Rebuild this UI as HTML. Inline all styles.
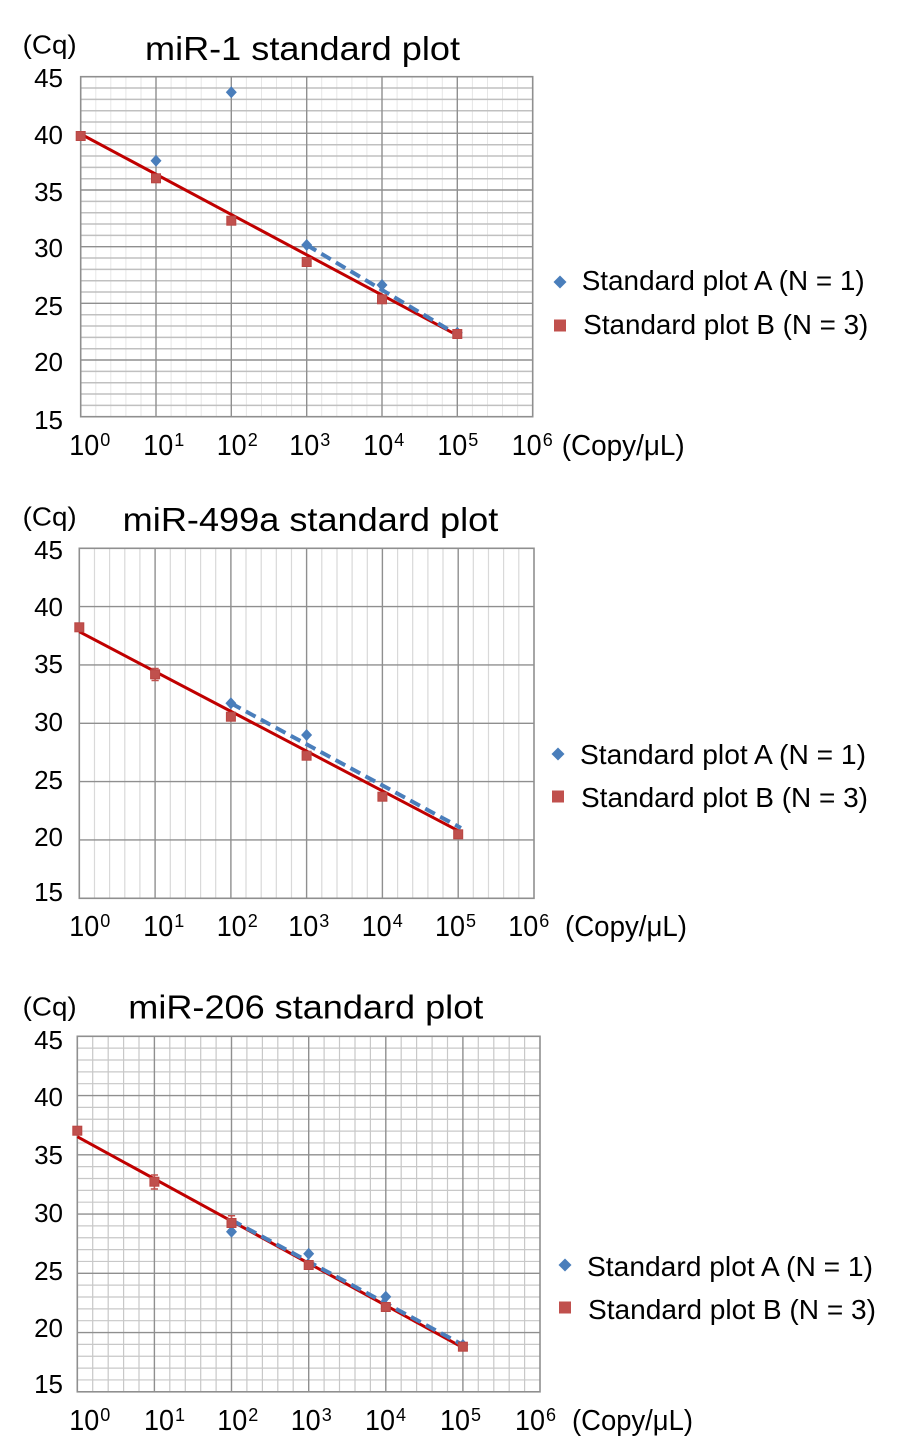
<!DOCTYPE html>
<html>
<head>
<meta charset="utf-8">
<style>
  html, body { margin: 0; padding: 0; background: #ffffff; }
  svg { display: block; }
  text { font-family: "Liberation Sans", Arial, sans-serif; fill: #000; }
</style>
</head>
<body>
<svg width="900" height="1450" viewBox="0 0 900 1450" xmlns="http://www.w3.org/2000/svg">
  <rect x="0" y="0" width="900" height="1450" fill="#ffffff"/>

  <!-- ================= CHART 1 ================= -->
  <g>
    <text x="22.7" y="53.5" font-size="26" textLength="54" lengthAdjust="spacingAndGlyphs">(Cq)</text>
    <text x="145" y="60" font-size="33" textLength="315" lengthAdjust="spacingAndGlyphs">miR-1 standard plot</text>

    <path fill="none" stroke="#e6e6e6" stroke-width="1"
      d="M95.8 76.7V416.7M110.8 76.7V416.7M125.9 76.7V416.7M141 76.7V416.7
         M171.1 76.7V416.7M186.1 76.7V416.7M201.2 76.7V416.7M216.3 76.7V416.7
         M246.4 76.7V416.7M261.5 76.7V416.7M276.5 76.7V416.7M291.6 76.7V416.7
         M321.7 76.7V416.7M336.8 76.7V416.7M351.9 76.7V416.7M366.9 76.7V416.7
         M397.1 76.7V416.7M412.1 76.7V416.7M427.2 76.7V416.7M442.3 76.7V416.7
         M472.4 76.7V416.7M487.5 76.7V416.7M502.5 76.7V416.7M517.6 76.7V416.7"/>
    <path fill="none" stroke="#c0c0c0" stroke-width="1.5"
      d="M80.7 88H532.7M80.7 99.4H532.7M80.7 110.7H532.7M80.7 122H532.7
         M80.7 144.7H532.7M80.7 156H532.7M80.7 167.4H532.7M80.7 178.7H532.7
         M80.7 201.4H532.7M80.7 212.7H532.7M80.7 224H532.7M80.7 235.4H532.7
         M80.7 258H532.7M80.7 269.4H532.7M80.7 280.7H532.7M80.7 292H532.7
         M80.7 314.7H532.7M80.7 326H532.7M80.7 337.4H532.7M80.7 348.7H532.7
         M80.7 371.4H532.7M80.7 382.7H532.7M80.7 394H532.7M80.7 405.4H532.7"/>
    <path fill="none" stroke="#8f8f8f" stroke-width="1.4"
      d="M156 76.7V416.7M231.3 76.7V416.7M306.7 76.7V416.7M382 76.7V416.7M457.3 76.7V416.7
         M80.7 133.3H532.7M80.7 190H532.7M80.7 246.7H532.7M80.7 303.3H532.7M80.7 360H532.7"/>
    <rect x="80.7" y="76.7" width="452" height="340" fill="none" stroke="#8f8f8f" stroke-width="1.6"/>

    <g font-size="26" text-anchor="end">
      <text x="63" y="87">45</text>
      <text x="63" y="144">40</text>
      <text x="63" y="201">35</text>
      <text x="63" y="257">30</text>
      <text x="63" y="315">25</text>
      <text x="63" y="371">20</text>
      <text x="63" y="429">15</text>
    </g>
    <g font-size="29">
      <text x="69.3" y="455" textLength="30" lengthAdjust="spacingAndGlyphs">10</text><text x="100.3" y="446" font-size="18">0</text>
      <text x="143.3" y="455" textLength="30" lengthAdjust="spacingAndGlyphs">10</text><text x="174.3" y="446" font-size="18">1</text>
      <text x="216.7" y="455" textLength="30" lengthAdjust="spacingAndGlyphs">10</text><text x="247.7" y="446" font-size="18">2</text>
      <text x="289.3" y="455" textLength="30" lengthAdjust="spacingAndGlyphs">10</text><text x="320.3" y="446" font-size="18">3</text>
      <text x="363.3" y="455" textLength="30" lengthAdjust="spacingAndGlyphs">10</text><text x="394.3" y="446" font-size="18">4</text>
      <text x="437.3" y="455" textLength="30" lengthAdjust="spacingAndGlyphs">10</text><text x="468.3" y="446" font-size="18">5</text>
      <text x="511.7" y="455" textLength="30" lengthAdjust="spacingAndGlyphs">10</text><text x="542.7" y="446" font-size="18">6</text>
      <text x="561.7" y="455" textLength="123" lengthAdjust="spacingAndGlyphs">(Copy/μL)</text>
    </g>

    <line x1="80.7" y1="134" x2="457.3" y2="335.3" stroke="#c00000" stroke-width="3"/>
    <line x1="306.7" y1="245" x2="456" y2="334" stroke="#4a7ebb" stroke-width="4" stroke-dasharray="11 6"/>
    <g fill="#4a7ebb">
      <path d="M156 154.7L161.5 160.7L156 166.7L150.5 160.7Z"/>
      <path d="M231.3 86.3L236.8 92.3L231.3 98.3L225.8 92.3Z"/>
      <path d="M306.7 239L312.2 245L306.7 251L301.2 245Z"/>
      <path d="M382 279L387.5 285L382 291L376.5 285Z"/>
      <path d="M457.3 326.7L462.8 332.7L457.3 338.7L451.8 332.7Z"/>
    </g>
    <g fill="#c0504d" stroke="#b94643" stroke-width="1">
      <rect x="76.2" y="131.5" width="9" height="9"/>
      <rect x="151.5" y="173.8" width="9" height="9"/>
      <rect x="226.8" y="216.2" width="9" height="9"/>
      <rect x="302.2" y="257.5" width="9" height="9"/>
      <rect x="377.5" y="294.8" width="9" height="9"/>
      <rect x="452.8" y="329.5" width="9" height="9"/>
    </g>

    <path d="M560 275.5L566.5 282L560 288.5L553.5 282Z" fill="#4a7ebb"/>
    <rect x="554" y="319.5" width="12" height="12" fill="#c0504d"/>
    <text x="581.7" y="290" font-size="28" textLength="283" lengthAdjust="spacingAndGlyphs">Standard plot A (N = 1)</text>
    <text x="583.3" y="334" font-size="28" textLength="285" lengthAdjust="spacingAndGlyphs">Standard plot B (N = 3)</text>
  </g>

  <!-- ================= CHART 2 ================= -->
  <g>
    <text x="22.7" y="525.5" font-size="26" textLength="54" lengthAdjust="spacingAndGlyphs">(Cq)</text>
    <text x="122.7" y="531" font-size="33" textLength="375.6" lengthAdjust="spacingAndGlyphs">miR-499a standard plot</text>

    <path fill="none" stroke="#d9d9d9" stroke-width="1.2"
      d="M94.5 548.3V898.3M109.6 548.3V898.3M124.8 548.3V898.3M139.9 548.3V898.3
         M170.3 548.3V898.3M185.4 548.3V898.3M200.6 548.3V898.3M215.7 548.3V898.3
         M246 548.3V898.3M261.2 548.3V898.3M276.3 548.3V898.3M291.5 548.3V898.3
         M321.8 548.3V898.3M337 548.3V898.3M352.1 548.3V898.3M367.3 548.3V898.3
         M397.6 548.3V898.3M412.7 548.3V898.3M427.9 548.3V898.3M443 548.3V898.3
         M473.3 548.3V898.3M488.5 548.3V898.3M503.6 548.3V898.3M518.8 548.3V898.3"/>
    <path fill="none" stroke="#8f8f8f" stroke-width="1.4"
      d="M155.1 548.3V898.3M230.9 548.3V898.3M306.6 548.3V898.3M382.4 548.3V898.3M458.2 548.3V898.3
         M79.3 606.6H534M79.3 664.9H534M79.3 723.3H534M79.3 781.6H534M79.3 839.9H534"/>
    <rect x="79.3" y="548.3" width="454.7" height="350" fill="none" stroke="#8f8f8f" stroke-width="1.6"/>

    <g font-size="26" text-anchor="end">
      <text x="63" y="559">45</text>
      <text x="63" y="616">40</text>
      <text x="63" y="673">35</text>
      <text x="63" y="731">30</text>
      <text x="63" y="789">25</text>
      <text x="63" y="846">20</text>
      <text x="63" y="901">15</text>
    </g>
    <g font-size="29">
      <text x="69.3" y="936" textLength="30" lengthAdjust="spacingAndGlyphs">10</text><text x="100.3" y="927" font-size="18">0</text>
      <text x="143.3" y="936" textLength="30" lengthAdjust="spacingAndGlyphs">10</text><text x="174.3" y="927" font-size="18">1</text>
      <text x="216.7" y="936" textLength="30" lengthAdjust="spacingAndGlyphs">10</text><text x="247.7" y="927" font-size="18">2</text>
      <text x="288.3" y="936" textLength="30" lengthAdjust="spacingAndGlyphs">10</text><text x="319.3" y="927" font-size="18">3</text>
      <text x="361.7" y="936" textLength="30" lengthAdjust="spacingAndGlyphs">10</text><text x="392.7" y="927" font-size="18">4</text>
      <text x="435" y="936" textLength="30" lengthAdjust="spacingAndGlyphs">10</text><text x="466" y="927" font-size="18">5</text>
      <text x="508.3" y="936" textLength="30" lengthAdjust="spacingAndGlyphs">10</text><text x="539.3" y="927" font-size="18">6</text>
      <text x="565" y="936" textLength="122" lengthAdjust="spacingAndGlyphs">(Copy/μL)</text>
    </g>

    <line x1="79.3" y1="631.7" x2="460" y2="831.7" stroke="#c00000" stroke-width="3"/>
    <line x1="230.9" y1="703.3" x2="461" y2="828" stroke="#4a7ebb" stroke-width="4" stroke-dasharray="11 6"/>
    <path fill="none" stroke="#c0504d" stroke-width="1.5" d="M155.1 668.5V680.5M151.5 668.5H158.7M151.5 680.5H158.7"/>
    <g fill="#4a7ebb">
      <path d="M230.9 697.3L236.4 703.3L230.9 709.3L225.4 703.3Z"/>
      <path d="M306.6 729L312.1 735L306.6 741L301.1 735Z"/>
    </g>
    <g fill="#c0504d" stroke="#b94643" stroke-width="1">
      <rect x="74.8" y="622.8" width="9" height="9"/>
      <rect x="150.6" y="669.8" width="9" height="9"/>
      <rect x="226.4" y="712.2" width="9" height="9"/>
      <rect x="302.1" y="751.2" width="9" height="9"/>
      <rect x="377.9" y="792.2" width="9" height="9"/>
      <rect x="453.7" y="829.8" width="9" height="9"/>
    </g>

    <path d="M558 747.5L564.5 754L558 760.5L551.5 754Z" fill="#4a7ebb"/>
    <rect x="552" y="790.5" width="12" height="12" fill="#c0504d"/>
    <text x="580" y="764" font-size="28" textLength="286" lengthAdjust="spacingAndGlyphs">Standard plot A (N = 1)</text>
    <text x="581" y="807" font-size="28" textLength="287" lengthAdjust="spacingAndGlyphs">Standard plot B (N = 3)</text>
  </g>

  <!-- ================= CHART 3 ================= -->
  <g>
    <text x="22.7" y="1015.5" font-size="26" textLength="54" lengthAdjust="spacingAndGlyphs">(Cq)</text>
    <text x="128.3" y="1018.5" font-size="33" textLength="355" lengthAdjust="spacingAndGlyphs">miR-206 standard plot</text>

    <path fill="none" stroke="#c8c8c8" stroke-width="1.2"
      d="M92.7 1036.3V1391.8M108.2 1036.3V1391.8M123.6 1036.3V1391.8M139 1036.3V1391.8
         M169.8 1036.3V1391.8M185.3 1036.3V1391.8M200.7 1036.3V1391.8M216.1 1036.3V1391.8
         M246.9 1036.3V1391.8M262.4 1036.3V1391.8M277.8 1036.3V1391.8M293.2 1036.3V1391.8
         M324.1 1036.3V1391.8M339.5 1036.3V1391.8M355 1036.3V1391.8M370.4 1036.3V1391.8
         M401.2 1036.3V1391.8M416.6 1036.3V1391.8M432.1 1036.3V1391.8M447.5 1036.3V1391.8
         M478.3 1036.3V1391.8M493.8 1036.3V1391.8M509.2 1036.3V1391.8M524.6 1036.3V1391.8
         M77.3 1048.15H540M77.3 1060H540M77.3 1071.85H540M77.3 1083.7H540
         M77.3 1107.4H540M77.3 1119.25H540M77.3 1131.1H540M77.3 1142.95H540
         M77.3 1166.65H540M77.3 1178.5H540M77.3 1190.35H540M77.3 1202.2H540
         M77.3 1225.9H540M77.3 1237.75H540M77.3 1249.6H540M77.3 1261.45H540
         M77.3 1285.15H540M77.3 1297H540M77.3 1308.85H540M77.3 1320.7H540
         M77.3 1344.4H540M77.3 1356.25H540M77.3 1368.1H540M77.3 1379.95H540"/>
    <path fill="none" stroke="#8f8f8f" stroke-width="1.4"
      d="M154.4 1036.3V1391.8M231.5 1036.3V1391.8M308.7 1036.3V1391.8M385.8 1036.3V1391.8M462.9 1036.3V1391.8
         M77.3 1095.6H540M77.3 1154.8H540M77.3 1214.1H540M77.3 1273.3H540M77.3 1332.6H540"/>
    <rect x="77.3" y="1036.3" width="462.7" height="355.5" fill="none" stroke="#8f8f8f" stroke-width="1.6"/>

    <g font-size="26" text-anchor="end">
      <text x="63" y="1049">45</text>
      <text x="63" y="1106">40</text>
      <text x="63" y="1164">35</text>
      <text x="63" y="1222">30</text>
      <text x="63" y="1280">25</text>
      <text x="63" y="1337">20</text>
      <text x="63" y="1393">15</text>
    </g>
    <g font-size="29">
      <text x="69.3" y="1430" textLength="30" lengthAdjust="spacingAndGlyphs">10</text><text x="100.3" y="1421" font-size="18">0</text>
      <text x="144" y="1430" textLength="30" lengthAdjust="spacingAndGlyphs">10</text><text x="175" y="1421" font-size="18">1</text>
      <text x="217.3" y="1430" textLength="30" lengthAdjust="spacingAndGlyphs">10</text><text x="248.3" y="1421" font-size="18">2</text>
      <text x="290.7" y="1430" textLength="30" lengthAdjust="spacingAndGlyphs">10</text><text x="321.7" y="1421" font-size="18">3</text>
      <text x="365" y="1430" textLength="30" lengthAdjust="spacingAndGlyphs">10</text><text x="396" y="1421" font-size="18">4</text>
      <text x="440" y="1430" textLength="30" lengthAdjust="spacingAndGlyphs">10</text><text x="471" y="1421" font-size="18">5</text>
      <text x="515" y="1430" textLength="30" lengthAdjust="spacingAndGlyphs">10</text><text x="546" y="1421" font-size="18">6</text>
      <text x="572" y="1430" textLength="121" lengthAdjust="spacingAndGlyphs">(Copy/μL)</text>
    </g>

    <line x1="77.3" y1="1136.7" x2="463" y2="1347.7" stroke="#c00000" stroke-width="3"/>
    <line x1="231.5" y1="1220" x2="463" y2="1345" stroke="#4a7ebb" stroke-width="4" stroke-dasharray="11 6"/>
    <path fill="none" stroke="#c0504d" stroke-width="1.5"
      d="M154.4 1175V1189M150.8 1175H158M150.8 1189H158
         M231.5 1215.7V1230M227.9 1215.7H235.1M227.9 1230H235.1"/>
    <g fill="#4a7ebb">
      <path d="M231.5 1225.7L237 1231.7L231.5 1237.7L226 1231.7Z"/>
      <path d="M308.7 1247.7L314.2 1253.7L308.7 1259.7L303.2 1253.7Z"/>
      <path d="M385.8 1290.7L391.3 1296.7L385.8 1302.7L380.3 1296.7Z"/>
      <path d="M462.9 1339L468.4 1345L462.9 1351L457.4 1345Z"/>
    </g>
    <g fill="#c0504d" stroke="#b94643" stroke-width="1">
      <rect x="72.8" y="1126.2" width="9" height="9"/>
      <rect x="149.9" y="1177.2" width="9" height="9"/>
      <rect x="227" y="1218.5" width="9" height="9"/>
      <rect x="304.2" y="1260.5" width="9" height="9"/>
      <rect x="381.3" y="1302.5" width="9" height="9"/>
      <rect x="458.4" y="1342.2" width="9" height="9"/>
    </g>

    <path d="M565 1258.5L571.5 1265L565 1271.5L558.5 1265Z" fill="#4a7ebb"/>
    <rect x="559" y="1301.5" width="12" height="12" fill="#c0504d"/>
    <text x="587" y="1276" font-size="28" textLength="286" lengthAdjust="spacingAndGlyphs">Standard plot A (N = 1)</text>
    <text x="588" y="1319" font-size="28" textLength="288" lengthAdjust="spacingAndGlyphs">Standard plot B (N = 3)</text>
  </g>
</svg>
</body>
</html>
